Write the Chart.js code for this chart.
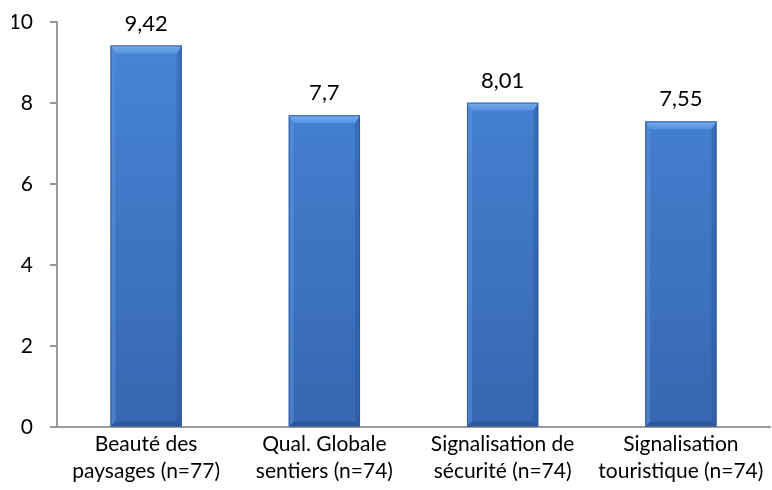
<!DOCTYPE html>
<html>
<head>
<meta charset="utf-8">
<script src="https://cdn.jsdelivr.net/npm/chart.js@4/dist/chart.umd.min.js"></script>
<style>
  html, body { margin: 0; padding: 0; background: #fff; }
  #wrap { width: 772px; height: 490px; }
</style>
</head>
<body>
<div id="wrap"><canvas id="chart" width="772" height="490"></canvas></div>
<script>
const categories = [
    ['Beauté des', 'paysages (n=77)'],
    ['Qual. Globale', 'sentiers (n=74)'],
    ['Signalisation de', 'sécurité (n=74)'],
    ['Signalisation', 'touristique (n=74)']
];
const notes = [9.42, 7.7, 8.01, 7.55];
const yTicks = [0, 2, 4, 6, 8, 10];

const FONT = "Lato, 'Open Sans', sans-serif";

// étiquettes de valeurs au-dessus des barres (virgule décimale)
const etiquettes = {
    id: 'etiquettes',
    afterDatasetsDraw(chart) {
        const ctx = chart.ctx;
        const meta = chart.getDatasetMeta(0);
        ctx.save();
        ctx.font = '22px ' + FONT;
        ctx.fillStyle = '#000';
        ctx.textAlign = 'center';
        ctx.textBaseline = 'middle';
        meta.data.forEach((bar, i) => {
            const txt = String(notes[i]).replace('.', ',');
            ctx.fillText(txt, bar.x, bar.y - 22);
        });
        ctx.restore();
    }
};

// effet de biseau façon Excel
const biseau = {
    id: 'biseau',
    afterDatasetsDraw(chart) {
        const ctx = chart.ctx;
        const meta = chart.getDatasetMeta(0);
        ctx.save();
        meta.data.forEach(bar => {
            const l = bar.x - bar.width / 2, r = bar.x + bar.width / 2;
            const t = bar.y, b = bar.base;
            const d = 8, s = 5;
            // haut
            let g = ctx.createLinearGradient(0, t, 0, t + d);
            g.addColorStop(0, 'rgba(120,172,238,1)');
            g.addColorStop(1, 'rgba(85,145,225,1)');
            ctx.fillStyle = g;
            ctx.beginPath();
            ctx.moveTo(l, t); ctx.lineTo(r, t); ctx.lineTo(r - s, t + d); ctx.lineTo(l + s, t + d);
            ctx.closePath(); ctx.fill();
            // gauche
            ctx.fillStyle = 'rgba(90,145,220,0.55)';
            ctx.beginPath();
            ctx.moveTo(l, t); ctx.lineTo(l + s, t + d); ctx.lineTo(l + s, b - s); ctx.lineTo(l, b);
            ctx.closePath(); ctx.fill();
            // droite
            ctx.fillStyle = 'rgba(40,85,150,0.4)';
            ctx.beginPath();
            ctx.moveTo(r, t); ctx.lineTo(r - s, t + d); ctx.lineTo(r - s, b - s); ctx.lineTo(r, b);
            ctx.closePath(); ctx.fill();
            // bas
            ctx.fillStyle = 'rgba(35,70,130,0.45)';
            ctx.beginPath();
            ctx.moveTo(l, b); ctx.lineTo(l + s, b - s); ctx.lineTo(r - s, b - s); ctx.lineTo(r, b);
            ctx.closePath(); ctx.fill();
            // contour
            ctx.strokeStyle = 'rgba(45,85,150,0.8)';
            ctx.lineWidth = 1;
            ctx.strokeRect(l + 0.5, t + 0.5, bar.width - 1, b - t - 1);
        });
        ctx.restore();
    }
};

document.addEventListener('DOMContentLoaded', function () {
    const ctx = document.getElementById('chart').getContext('2d');
    new Chart(ctx, {
        type: 'bar',
        data: {
            labels: categories,
            datasets: [{
                data: notes,
                backgroundColor(c) {
                    const area = c.chart.chartArea;
                    if (!area) return '#3E78CC';
                    const g = c.chart.ctx.createLinearGradient(0, area.top, 0, area.bottom);
                    g.addColorStop(0, '#4886D8');
                    g.addColorStop(1, '#3667B0');
                    return g;
                },
                borderWidth: 0,
                barPercentage: 0.4,
                categoryPercentage: 1
            }]
        },
        options: {
            responsive: false,
            animation: false,
            layout: { autoPadding: false, padding: { top: 22, right: 2, left: 12, bottom: 2 } },
            plugins: { legend: { display: false }, tooltip: { enabled: false } },
            scales: {
                y: {
                    min: 0, max: 10,
                    afterBuildTicks(axis) { axis.ticks = yTicks.map(v => ({ value: v })); },
                    afterFit(axis) {
                        axis.width = 45;
                        axis.paddingTop = 0;
                        axis.paddingBottom = 0;
                    },
                    grid: { drawOnChartArea: false, drawTicks: true, tickLength: 7, color: '#9a9a9a', lineWidth: 2 },
                    border: { display: true, color: '#9a9a9a', width: 2 },
                    ticks: { font: { family: FONT, size: 21 }, color: '#000', padding: 17 }
                },
                x: {
                    grid: { drawOnChartArea: false, drawTicks: false },
                    border: { display: true, color: '#9a9a9a', width: 2 },
                    ticks: { font: { family: FONT, size: 21, lineHeight: 1.3 }, color: '#000', padding: 3, maxRotation: 0 }
                }
            }
        },
        plugins: [biseau, etiquettes]
    });
});
</script>
</body>
</html>
